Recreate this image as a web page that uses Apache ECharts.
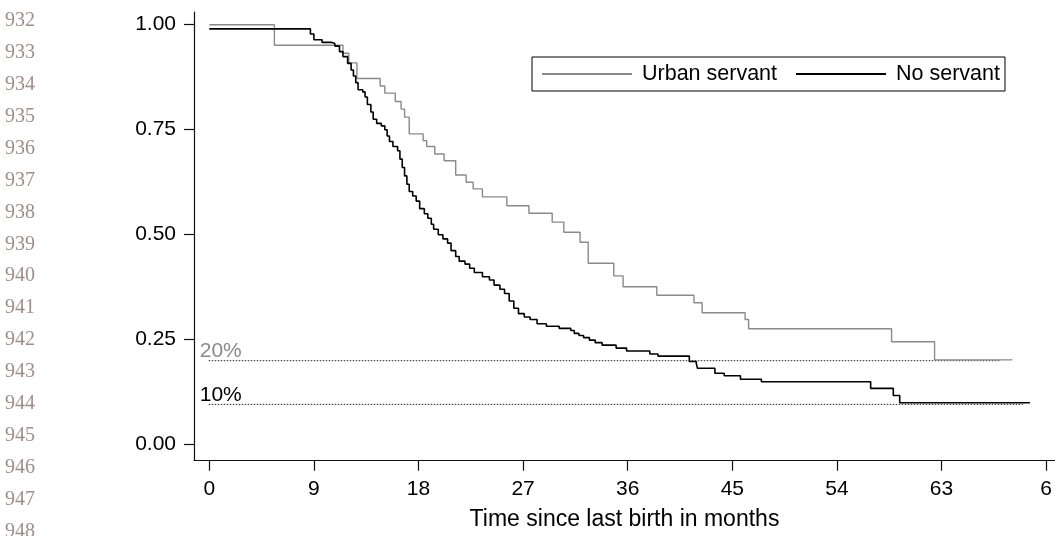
<!DOCTYPE html>
<html>
<head>
<meta charset="utf-8">
<script src="https://cdn.jsdelivr.net/npm/echarts@6/dist/echarts.min.js"></script>
<style>
  html, body { margin: 0; padding: 0; background: #fff; }
  #chart { width: 1055px; height: 536px; }
</style>
</head>
<body>
<div id="chart"></div>
<script>
// margin line numbers of the manuscript page
const lineNumbers = ['932', '933', '934', '935', '936', '937', '938', '939', '940',
  '941', '942', '943', '944', '945', '946', '947', '948']

// x tick labels as printed (last one is cut by the page edge)
const xTickLabels = ['0', '9', '18', '27', '36', '45', '54', '63', '6']

// Kaplan-Meier steps: value holds from time[i] until time[i + 1]
const urbanTime = [0, 5.6, 11.5, 12.0, 12.7, 14.7, 15.1, 16.0, 16.5, 16.8,
  17.2, 18.4, 18.7, 19.4, 20.2, 21.2, 22.1, 22.7, 23.5, 25.6,
  27.5, 29.5, 30.5, 31.9, 32.6, 34.8, 35.6, 38.5, 41.7, 42.4,
  46.1, 46.4, 58.7, 62.4, 69.1]
const urbanSurv = [1.000, 0.951, 0.932, 0.909, 0.872, 0.854, 0.837, 0.817, 0.799, 0.780,
  0.740, 0.724, 0.710, 0.692, 0.676, 0.642, 0.625, 0.609, 0.590, 0.569,
  0.551, 0.530, 0.506, 0.482, 0.432, 0.402, 0.376, 0.356, 0.338, 0.314,
  0.298, 0.276, 0.245, 0.202, 0.202]

const noTime = [0, 8.7, 9.0, 9.7, 10.5, 10.8, 11.2, 11.5, 11.9, 12.2,
  12.4, 12.6, 12.8, 13.2, 13.4, 13.6, 13.9, 14.1, 14.4, 14.8,
  15.1, 15.3, 15.5, 15.8, 16.2, 16.4, 16.6, 16.8, 17.0, 17.2,
  17.5, 17.8, 18.1, 18.5, 18.8, 19.1, 19.3, 19.7, 20.1, 20.5,
  20.8, 21.2, 21.5, 22.0, 22.4, 22.8, 23.5, 24.1, 24.5, 25.0,
  25.4, 25.8, 26.2, 26.6, 27.1, 27.6, 28.2, 29.0, 30.1, 31.1,
  31.4, 31.8, 32.2, 32.7, 33.2, 33.8, 35.0, 35.9, 37.9, 38.6,
  41.3, 41.9, 42.0, 43.5, 44.3, 45.7, 47.5, 56.9, 58.85, 59.4,
  70.6]
const noSurv = [0.990, 0.978, 0.964, 0.958, 0.955, 0.949, 0.936, 0.924, 0.908, 0.892,
  0.878, 0.862, 0.845, 0.840, 0.828, 0.810, 0.792, 0.775, 0.765, 0.759,
  0.750, 0.735, 0.722, 0.710, 0.700, 0.680, 0.660, 0.640, 0.620, 0.603,
  0.592, 0.580, 0.562, 0.550, 0.539, 0.525, 0.513, 0.500, 0.490, 0.480,
  0.462, 0.448, 0.437, 0.430, 0.420, 0.410, 0.400, 0.392, 0.380, 0.370,
  0.360, 0.342, 0.325, 0.312, 0.304, 0.298, 0.288, 0.282, 0.277, 0.272,
  0.265, 0.260, 0.255, 0.249, 0.243, 0.237, 0.230, 0.223, 0.216, 0.211,
  0.198, 0.193, 0.182, 0.170, 0.164, 0.156, 0.150, 0.134, 0.117, 0.100,
  0.100]

// reference levels (dotted lines)
const refLevels = [0.2, 0.096]
const refLabels = ['20%', '10%']
const refStart = [-1.08, -1.08]
const refEnd = [68.0, 70.0]

const seriesNames = ['Urban servant', 'No servant']
const xTickStep = 9
const yTickStep = 0.25

const FONT = '"Liberation Sans", Arial, Helvetica, sans-serif'
const SERIF = '"Liberation Serif", "Times New Roman", serif'
const GREY = '#8a8a8a'

const toPairs = (xs, ys) => xs.map((x, i) => [x, ys[i]])

const chart = echarts.init(document.getElementById('chart'))

const refSeries = refLevels.map((lv, i) => ({
  type: 'line',
  xAxisIndex: 1,
  yAxisIndex: 1,
  clip: false,
  silent: true,
  symbol: 'circle',
  symbolSize: 0,
  showSymbol: true,
  lineStyle: { type: [1.5, 1.5], width: 1, color: '#222' },
  label: { show: false, position: [3, -20], fontSize: 21, fontFamily: FONT },
  data: [
    { value: [refStart[i], lv], label: { show: true, formatter: refLabels[i], color: i === 0 ? GREY : '#000' } },
    [refEnd[i], lv]
  ],
  z: 1
}))

chart.setOption({
  animation: false,
  backgroundColor: '#fff',
  graphic: lineNumbers.map((t, i) => ({
    type: 'text',
    left: 5,
    top: 11 + i * 31.9,
    style: { text: t, font: '20px ' + SERIF, fill: '#9d8f8b' }
  })),
  legend: {
    data: seriesNames,
    left: 532,
    top: 57,
    padding: [6, 5, 6, 9],
    itemWidth: 90,
    itemHeight: 14,
    itemGap: 18,
    borderColor: '#000',
    borderWidth: 1,
    itemStyle: { opacity: 0 },
    textStyle: { fontSize: 21.5, fontFamily: FONT, color: '#000', padding: [0, 0, 0, 5] }
  },
  grid: [
    // frame: axis lines only
    { left: 194, right: 0, top: 12, bottom: 75.3 },
    // data area
    { left: 209.3, right: 7.6, top: 24.7, bottom: 91.3 }
  ],
  xAxis: [
    {
      gridIndex: 0, type: 'value', min: 0, max: 1,
      name: 'Time since last birth in months',
      nameLocation: 'middle',
      nameGap: 48,
      nameTextStyle: { fontSize: 23, fontFamily: FONT, color: '#000' },
      axisLine: { show: true, onZero: false, lineStyle: { color: '#111', width: 1.2 } },
      axisTick: { show: false }, axisLabel: { show: false }, splitLine: { show: false }
    },
    {
      gridIndex: 1, type: 'value', min: 0, max: 72, interval: xTickStep,
      offset: 16,
      axisLine: { show: false, onZero: false },
      axisTick: { show: true, length: 10, lineStyle: { color: '#111', width: 1.2 } },
      axisLabel: {
        margin: 18, fontSize: 21, fontFamily: FONT, color: '#000',
        formatter: v => xTickLabels[Math.round(v / xTickStep)]
      },
      splitLine: { show: false }
    }
  ],
  yAxis: [
    {
      gridIndex: 0, type: 'value', min: 0, max: 1,
      axisLine: { show: true, onZero: false, lineStyle: { color: '#111', width: 1.2 } },
      axisTick: { show: false }, axisLabel: { show: false }, splitLine: { show: false }
    },
    {
      gridIndex: 1, type: 'value', min: 0, max: 1, interval: yTickStep,
      offset: 15.3,
      axisLine: { show: false, onZero: false },
      axisTick: { show: true, length: 10, lineStyle: { color: '#111', width: 1.2 } },
      axisLabel: { margin: 18, fontSize: 21, fontFamily: FONT, color: '#000', formatter: v => v.toFixed(2) },
      splitLine: { show: false }
    }
  ],
  series: [
    ...refSeries,
    {
      name: seriesNames[0],
      type: 'line',
      xAxisIndex: 1,
      yAxisIndex: 1,
      step: 'end',
      symbol: 'none',
      lineStyle: { color: GREY, width: 1.4 },
      itemStyle: { color: GREY },
      data: toPairs(urbanTime, urbanSurv),
      z: 2
    },
    {
      name: seriesNames[1],
      type: 'line',
      xAxisIndex: 1,
      yAxisIndex: 1,
      step: 'end',
      symbol: 'none',
      lineStyle: { color: '#000', width: 1.6 },
      itemStyle: { color: '#000' },
      data: toPairs(noTime, noSurv),
      z: 3
    }
  ]
})
</script>
</body>
</html>
